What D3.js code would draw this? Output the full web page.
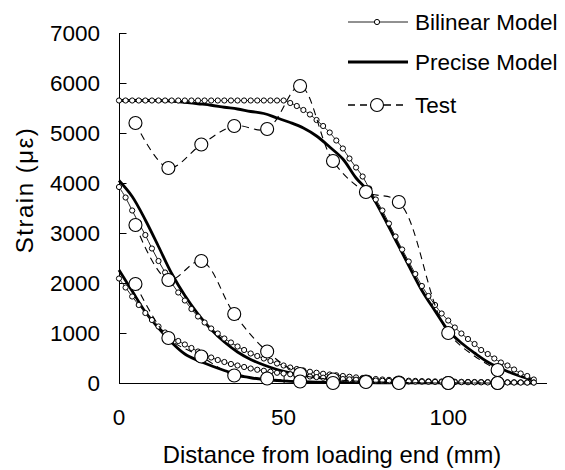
<!DOCTYPE html>
<meta charset="utf-8">
<style>
  body { margin: 0; background: #fff; }
  text { font-family: "Liberation Sans", Arial, sans-serif; font-size: 22.5px; fill: #000; }
  .axis path, .axis line { stroke: #000; stroke-width: 1; }
</style>
<svg width="565" height="470"></svg>
<script src="https://cdn.jsdelivr.net/npm/d3@7"></script>
<script>

  // bilinear model, every 2 mm
  var bilinearX = [0,2,4,6,8,10,12,14,16,18,20,22,24,26,28,30,32,34,36,38,40,42,44,46,48,50,
    52,54,56,58,60,62,64,66,68,70,72,74,76,78,80,82,84,86,88,90,92,94,96,98,100,
    102,104,106,108,110,112,114,116,118,120,122,124,126];
  var bilinearHigh = [5650,5650,5650,5650,5650,5650,5650,5650,5650,5650,5650,5650,5650,5650,5650,5650,
    5650,5650,5650,5650,5650,5650,5650,5650,5650,5650,
    5600,5540,5460,5370,5260,5140,5010,4850,4690,4490,4310,4130,3890,3670,3450,3190,2930,2670,2430,2180,
    1940,1740,1560,1390,1250,1110,990,880,780,660,580,490,410,350,270,190,140,70];
  var bilinearMid = [3920,3710,3450,3200,2960,2690,2440,2210,2000,1810,1650,1480,1330,1210,1090,990,
    890,810,730,660,590,540,490,440,390,350,310,280,250,225,205,185,170,155,140,125,112,100,90,80,
    70,63,57,51,46,42,38,35,32,30,28,26,24,22,20,19,18,17,16,15,14,13,12,11];
  var bilinearLow = [2090,1910,1730,1560,1400,1260,1130,1010,910,840,770,700,630,570,510,460,
    420,380,350,320,290,265,245,225,205,190,175,160,145,130,118,106,96,87,79,72,65,59,54,49,
    45,41,37,34,31,28,26,24,22,20,18,17,16,15,14,13,12,11,10,10,9,9,8,8];

  // precise model
  var preciseX = [0,4,8,12,16,20,24,28,32,36,40,44,48,52,56,60,64,68,72,76,80,84,88,92,96,100,
    104,108,112,116,120,126];
  var preciseHigh = [5650,5650,5650,5650,5640,5615,5585,5555,5515,5480,5430,5390,5300,5210,5100,4940,
    4720,4480,4100,3820,3370,2860,2350,1850,1440,1050,800,600,420,290,180,50];
  var preciseMid = [4050,3730,3260,2730,2190,1750,1380,1070,820,620,470,360,270,205,155,115,
    88,66,50,38,30,24,19,15,12,10,8,7,6,5,4,3];
  var preciseLow = [2260,1840,1420,1100,810,580,450,345,250,165,105,70,48,34,25,18,
    13,10,8,6,5,4,3,3,2,2,2,1,1,1,1,1];

  // test
  var testX = [5,15,25,35,45,55,65,75,85,100,115];
  var testHigh = [5200,4300,4770,5140,5080,5940,4440,3820,3620,1000,260];
  var testMid = [3160,2060,2440,1380,630,180,70,30,10,0,0];
  var testLow = [1980,900,530,150,90,30,0,20,0,0,0];

  var yTicks = [0,1000,2000,3000,4000,5000,6000,7000];
  var xTicks = [0,50,100];
  var legendLabels = ["Bilinear Model", "Precise Model", "Test"];

  var svg = d3.select("svg");
  var x = d3.scaleLinear().domain([0, 130]).range([119, 547]);
  var y = d3.scaleLinear().domain([0, 7000]).range([383, 33]);

  function pts(xs, ys) {
    return xs.map(function (d, i) { return [d, ys[i]]; });
  }

  var smooth = d3.line()
        .x(function (d) { return x(d[0]); })
        .y(function (d) { return y(d[1]); })
        .curve(d3.curveCatmullRom.alpha(0.5));

  // axes
  var yAxis = svg.append("g").attr("class", "axis")
        .attr("transform", "translate(119,0)")
        .call(d3.axisRight(y).tickValues(yTicks).tickSize(7).tickFormat(""));
  yAxis.select(".domain").attr("d", "M0.5,33V383.5");
  yAxis.selectAll(".tick line").attr("x1", 0.5).attr("x2", 7.5);

  var xAxis = svg.append("g").attr("class", "axis")
        .attr("transform", "translate(0,383)")
        .call(d3.axisTop(x).tickValues(xTicks.slice(1)).tickSize(7).tickFormat(""));
  xAxis.select(".domain").attr("d", "M119,0.5H547");

  svg.selectAll(".ylab").data(yTicks).enter().append("text")
        .attr("x", 100).attr("y", function (d) { return y(d); })
        .attr("dy", "0.36em").attr("text-anchor", "end")
        .text(function (d) { return d; });

  svg.selectAll(".xlab").data(xTicks).enter().append("text")
        .attr("x", function (d) { return x(d); }).attr("y", 425)
        .attr("text-anchor", "middle")
        .text(function (d) { return d; });

  svg.append("text").attr("x", 332).attr("y", 463).attr("text-anchor", "middle")
        .style("font-size", "23.8px")
        .text("Distance from loading end (mm)");
  svg.append("text").attr("transform", "translate(33,190) rotate(-90)")
        .attr("text-anchor", "middle")
        .style("font-size", "24px").style("letter-spacing", "1.5px")
        .text("Strain (με)");

  // precise model lines
  [preciseHigh, preciseMid, preciseLow].forEach(function (s) {
    svg.append("path").datum(pts(preciseX, s))
          .attr("d", smooth).attr("fill", "none")
          .attr("stroke", "#000").attr("stroke-width", 2.8);
  });

  // bilinear lines with small markers
  [bilinearHigh, bilinearMid, bilinearLow].forEach(function (s) {
    var data = pts(bilinearX, s);
    svg.append("path").datum(data)
          .attr("d", smooth).attr("fill", "none")
          .attr("stroke", "#222").attr("stroke-width", 1);
    svg.append("g").selectAll("circle").data(data).enter().append("circle")
          .attr("cx", function (d) { return x(d[0]); })
          .attr("cy", function (d) { return y(d[1]); })
          .attr("r", 2.6).attr("fill", "#fff").attr("stroke", "#000").attr("stroke-width", 1);
  });

  // test lines
  [testHigh, testMid, testLow].forEach(function (s) {
    var data = pts(testX, s);
    svg.append("path").datum(data)
          .attr("d", smooth).attr("fill", "none")
          .attr("stroke", "#000").attr("stroke-width", 1.1)
          .attr("stroke-dasharray", "7,5");
    svg.append("g").selectAll("circle").data(data).enter().append("circle")
          .attr("cx", function (d) { return x(d[0]); })
          .attr("cy", function (d) { return y(d[1]); })
          .attr("r", 6.5).attr("fill", "#fff").attr("stroke", "#000").attr("stroke-width", 1.1);
  });

  // legend
  var legendY = [22, 62, 105];
  var lg = svg.append("g");
  lg.selectAll("text").data(legendLabels).enter().append("text")
        .attr("x", 415).attr("y", function (d, i) { return legendY[i] + 7.5; })
        .text(function (d) { return d; });

  lg.append("line").attr("x1", 348).attr("x2", 408).attr("y1", legendY[0]).attr("y2", legendY[0])
        .attr("stroke", "#222").attr("stroke-width", 1);
  lg.append("circle").attr("cx", 377).attr("cy", legendY[0]).attr("r", 2.6)
        .attr("fill", "#fff").attr("stroke", "#000");
  lg.append("line").attr("x1", 348).attr("x2", 408).attr("y1", legendY[1]).attr("y2", legendY[1])
        .attr("stroke", "#000").attr("stroke-width", 3);
  lg.append("line").attr("x1", 348).attr("x2", 408).attr("y1", legendY[2]).attr("y2", legendY[2])
        .attr("stroke", "#000").attr("stroke-width", 1.3).attr("stroke-dasharray", "7,5");
  lg.append("circle").attr("cx", 377).attr("cy", legendY[2]).attr("r", 6.5)
        .attr("fill", "#fff").attr("stroke", "#000").attr("stroke-width", 1.1);

</script>
